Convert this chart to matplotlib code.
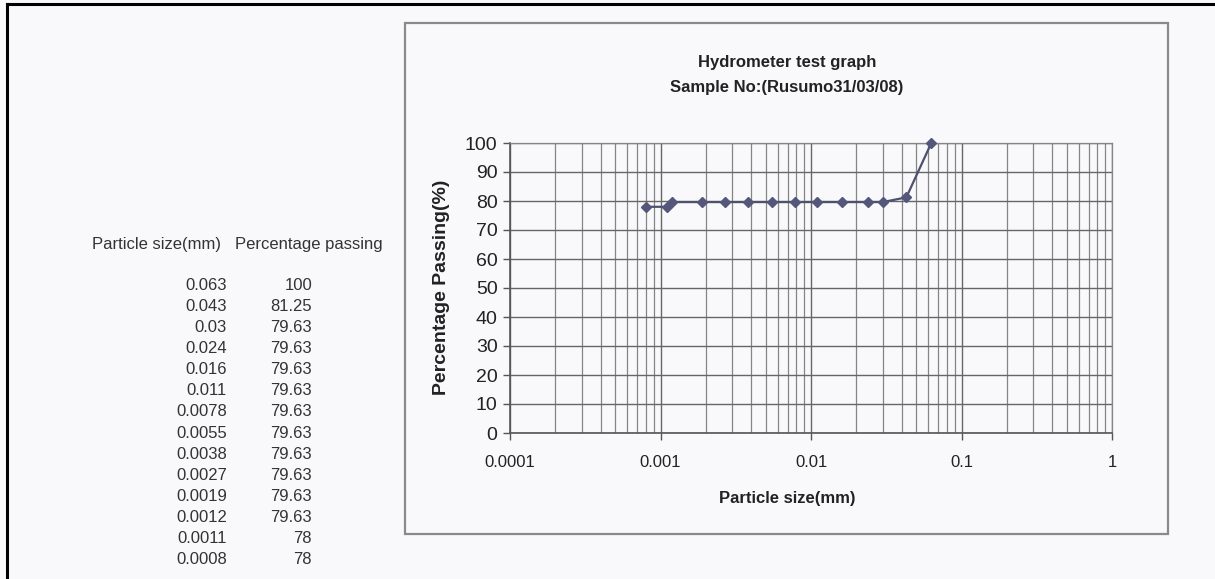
import numpy as np
import matplotlib.pyplot as plt
from matplotlib.patches import Rectangle
from matplotlib.lines import Line2D

plt.rcParams['font.family'] = ['Liberation Sans', 'DejaVu Sans']

# data
particle_size = [0.063, 0.043, 0.03, 0.024, 0.016, 0.011, 0.0078, 0.0055,
                 0.0038, 0.0027, 0.0019, 0.0012, 0.0011, 0.0008]
percent_passing = [100, 81.25, 79.63, 79.63, 79.63, 79.63, 79.63, 79.63,
                   79.63, 79.63, 79.63, 79.63, 78, 78]
size_labels = ['0.063', '0.043', '0.03', '0.024', '0.016', '0.011', '0.0078',
               '0.0055', '0.0038', '0.0027', '0.0019', '0.0012', '0.0011', '0.0008']
pass_labels = ['100', '81.25', '79.63', '79.63', '79.63', '79.63', '79.63',
               '79.63', '79.63', '79.63', '79.63', '79.63', '78', '78']
x_ticks = [0.0001, 0.001, 0.01, 0.1, 1]
x_tick_labels = ['0.0001', '0.001', '0.01', '0.1', '1']
y_ticks = list(range(0, 101, 10))

W, H = 1215, 579
fig = plt.figure(figsize=(W / 100, H / 100), dpi=100)
fig.patch.set_facecolor('#f9f9fc')


def fx(px):
    return px / W


def fy(py):
    return 1 - py / H


# outer black frame (left + top)
fig.add_artist(Line2D([fx(7), fx(7)], [0, fy(4)], color='black', lw=2.2))
fig.add_artist(Line2D([fx(7), 1], [fy(4), fy(4)], color='black', lw=2.2))

# chart box
fig.add_artist(Rectangle((fx(405), fy(534)), fx(1168) - fx(405), fy(23) - fy(534),
                         fill=False, edgecolor='#8a8a8a', lw=1.6))

# table on the left
fig.text(fx(92), fy(245), 'Particle size(mm)', fontsize=12, color='#333333',
         ha='left', va='center')
fig.text(fx(383), fy(245), 'Percentage passing', fontsize=12, color='#333333',
         ha='right', va='center')
row_step = 21.15
for i, (s, p) in enumerate(zip(size_labels, pass_labels)):
    yy = fy(285 + i * row_step)
    fig.text(fx(227), yy, s, fontsize=12, color='#333333', ha='right', va='center')
    fig.text(fx(312), yy, p, fontsize=12, color='#333333', ha='right', va='center')

# plot
ax = fig.add_axes([fx(510), fy(433), fx(1112) - fx(510), fy(143) - fy(433)])
ax.set_facecolor('none')
ax.set_xscale('log')
ax.set_xlim(0.0001, 1)
ax.set_ylim(0, 100)

ax.grid(True, which='major', axis='both', color='#666666', lw=1.0)
ax.grid(True, which='minor', axis='x', color='#858585', lw=0.9)
ax.set_axisbelow(True)

ax.plot(particle_size, percent_passing, color='#4e5070', lw=1.6,
        marker='D', markersize=5.5, markerfacecolor='#55577a',
        markeredgecolor='#55577a', zorder=3, clip_on=False)

ax.set_xticks(x_ticks)
ax.set_xticklabels(x_tick_labels)
ax.set_yticks(y_ticks)
ax.tick_params(axis='x', which='major', length=5, width=1, color='#555555',
               labelsize=12, pad=11, labelcolor='#222222')
ax.tick_params(axis='x', which='minor', length=0)
ax.tick_params(axis='y', which='major', length=5, width=1, color='#555555',
               labelsize=14, pad=4, labelcolor='#222222')

for side in ['top', 'right']:
    ax.spines[side].set_color('#858585')
    ax.spines[side].set_linewidth(0.9)
for side in ['left', 'bottom']:
    ax.spines[side].set_color('#555555')
    ax.spines[side].set_linewidth(1.2)

# titles and axis labels
fig.text(fx(787), fy(62), 'Hydrometer test graph', fontsize=12, fontweight='bold',
         color='#222222', ha='center', va='center')
fig.text(fx(787), fy(88), 'Sample No:(Rusumo31/03/08)', fontsize=12,
         fontweight='bold', color='#222222', ha='center', va='center')
fig.text(fx(787), fy(498), 'Particle size(mm)', fontsize=12, fontweight='bold',
         color='#222222', ha='center', va='center')
fig.text(fx(441), fy(287), 'Percentage Passing(%)', fontsize=14, fontweight='bold',
         color='#222222', ha='center', va='center', rotation=90)

fig.savefig('out.png', dpi=100, facecolor=fig.get_facecolor())
